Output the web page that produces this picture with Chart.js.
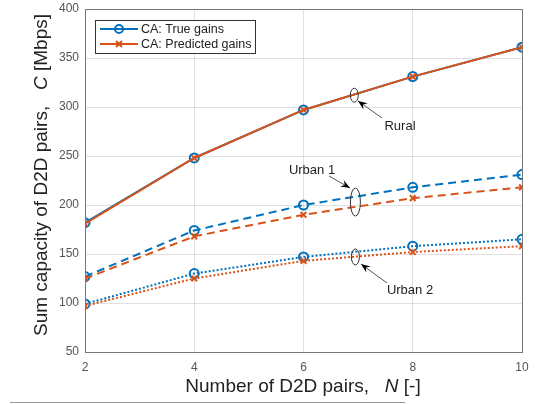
<!DOCTYPE html>
<html>
<head>
<meta charset="utf-8">
<script src="https://cdn.jsdelivr.net/npm/chart.js@4.4.1/dist/chart.umd.min.js"></script>
<style>
  html, body { margin: 0; padding: 0; background: #fff; }
  #wrap { width: 549px; height: 404px; }
</style>
</head>
<body>
<div id="wrap"><canvas id="myChart" width="549" height="404"></canvas></div>
<script>
// number of D2D pairs
const pairs = [2, 4, 6, 8, 10];

// sum capacity [Mbps]
const ruralTrue = [182, 248, 297, 331, 361];
const ruralPred = [181, 248, 297, 331, 361];
const urban1True = [127, 174, 200, 218, 231];
const urban1Pred = [125, 168, 190, 207, 218];
const urban2True = [99, 130, 147, 158, 165];
const urban2Pred = [97, 125, 143, 152, 158];

const yTicks = [50, 100, 150, 200, 250, 300, 350, 400];
const legendLabels = ["CA: True gains", "CA: Predicted gains"];

const BLUE = "#0072BD";
const ORANGE = "#D95319";
const FONT = "'Liberation Sans', Arial, sans-serif";

function pts(ys) {
  return pairs.map((x, i) => ({ x: x, y: ys[i] }));
}

function trueSet(ys, dash) {
  return {
    data: pts(ys),
    borderColor: BLUE,
    backgroundColor: "rgba(255,255,255,0)",
    borderWidth: 2,
    borderDash: dash,
    pointStyle: "circle",
    pointRadius: 4.5,
    pointBorderWidth: 2,
    pointBorderColor: BLUE,
    order: 2,
  };
}

function predSet(ys, dash) {
  return {
    data: pts(ys),
    borderColor: ORANGE,
    backgroundColor: ORANGE,
    borderWidth: 2,
    borderDash: dash,
    pointStyle: "crossRot",
    pointRadius: 4,
    pointBorderWidth: 2,
    pointBorderColor: ORANGE,
    order: 1,
  };
}

const annotations = {
  id: "annotations",
  afterDatasetsDraw(chart) {
    const ctx = chart.ctx;
    const xs = chart.scales.x;
    const ys = chart.scales.y;

    // ellipses + arrows + labels
    const notes = [
      { x: 6.93, y: 312, rx: 4, ry: 7, text: "Rural", tx: 400, ty: 126, ax0: 382, ay0: 118, ax1: 358, ay1: 101 },
      { x: 6.95, y: 203, rx: 5, ry: 14, text: "Urban 1", tx: 312, ty: 170, ax0: 329, ay0: 176, ax1: 350, ay1: 188 },
      { x: 6.95, y: 147, rx: 4, ry: 8, text: "Urban 2", tx: 410, ty: 290, ax0: 387, ay0: 283, ax1: 361, ay1: 264 },
    ];
    ctx.save();
    notes.forEach(n => {
      const cx = xs.getPixelForValue(n.x);
      const cy = ys.getPixelForValue(n.y);
      ctx.strokeStyle = "#333";
      ctx.lineWidth = 1;
      ctx.setLineDash([]);
      ctx.beginPath();
      ctx.ellipse(cx, cy, n.rx, n.ry, 0, 0, Math.PI * 2);
      ctx.stroke();
      // arrow
      ctx.strokeStyle = "#555";
      ctx.beginPath();
      ctx.moveTo(n.ax0, n.ay0);
      ctx.lineTo(n.ax1, n.ay1);
      ctx.stroke();
      const ang = Math.atan2(n.ay1 - n.ay0, n.ax1 - n.ax0);
      ctx.fillStyle = "#000";
      ctx.beginPath();
      ctx.moveTo(n.ax1, n.ay1);
      ctx.lineTo(n.ax1 - 10 * Math.cos(ang - 0.38), n.ay1 - 10 * Math.sin(ang - 0.38));
      ctx.lineTo(n.ax1 - 6 * Math.cos(ang), n.ay1 - 6 * Math.sin(ang));
      ctx.lineTo(n.ax1 - 10 * Math.cos(ang + 0.38), n.ay1 - 10 * Math.sin(ang + 0.38));
      ctx.closePath();
      ctx.fill();
      ctx.font = "13px " + FONT;
      ctx.textAlign = "center";
      ctx.textBaseline = "middle";
      ctx.fillStyle = "#222";
      ctx.fillText(n.text, n.tx, n.ty);
    });

    // legend
    const lx = 95, ly = 20, lw = 160, lh = 33;
    ctx.fillStyle = "#fff";
    ctx.fillRect(lx, ly, lw, lh);
    ctx.strokeStyle = "#333";
    ctx.lineWidth = 1;
    ctx.strokeRect(lx + 0.5, ly + 0.5, lw, lh);
    const rows = [
      { color: BLUE, style: "circle" },
      { color: ORANGE, style: "cross" },
    ];
    rows.forEach((r, i) => {
      const yy = ly + 9 + i * 15;
      ctx.strokeStyle = r.color;
      ctx.lineWidth = 2;
      ctx.beginPath();
      ctx.moveTo(lx + 5, yy);
      ctx.lineTo(lx + 43, yy);
      ctx.stroke();
      if (r.style === "circle") {
        ctx.beginPath();
        ctx.arc(lx + 24, yy, 4, 0, Math.PI * 2);
        ctx.stroke();
      } else {
        ctx.beginPath();
        ctx.moveTo(lx + 21, yy - 3); ctx.lineTo(lx + 27, yy + 3);
        ctx.moveTo(lx + 27, yy - 3); ctx.lineTo(lx + 21, yy + 3);
        ctx.stroke();
      }
      ctx.fillStyle = "#222";
      ctx.font = "12.5px " + FONT;
      ctx.textAlign = "left";
      ctx.textBaseline = "middle";
      ctx.fillText(legendLabels[i], lx + 46, yy + 1);
    });
    ctx.restore();
  },
  afterDraw(chart) {
    const ctx = chart.ctx;
    const area = chart.chartArea;
    ctx.save();
    // box
    ctx.strokeStyle = "#777";
    ctx.lineWidth = 1;
    ctx.strokeRect(area.left + 0.5, area.top + 0.5, area.right - area.left, area.bottom - area.top);

    // axis titles with italic symbols
    const font = "19px " + FONT;
    const ifont = "italic 19px " + FONT;
    function drawParts(parts, cx, cy, rot) {
      ctx.save();
      ctx.translate(cx, cy);
      ctx.rotate(rot);
      let total = 0;
      parts.forEach(p => { ctx.font = p.i ? ifont : font; total += ctx.measureText(p.t).width; });
      let x = -total / 2;
      ctx.fillStyle = "#222";
      ctx.textBaseline = "middle";
      ctx.textAlign = "left";
      parts.forEach(p => {
        ctx.font = p.i ? ifont : font;
        ctx.fillText(p.t, x, 0);
        x += ctx.measureText(p.t).width;
      });
      ctx.restore();
    }
    drawParts([{ t: "Number of D2D pairs,   " }, { t: "N", i: true }, { t: " [-]" }], 303, 387, 0);
    drawParts([{ t: "Sum capacity of D2D pairs,   " }, { t: "C", i: true }, { t: " [Mbps]" }], 42, 175, -Math.PI / 2);

    // bottom rule
    ctx.strokeStyle = "#999";
    ctx.beginPath();
    ctx.moveTo(10, 402.5);
    ctx.lineTo(405, 402.5);
    ctx.stroke();
    ctx.restore();
  },
};

const ctx = document.getElementById("myChart");
const myChart = new Chart(ctx, {
  type: "line",
  data: {
    datasets: [
      trueSet(ruralTrue, []),
      predSet(ruralPred, []),
      trueSet(urban1True, [8, 5]),
      predSet(urban1Pred, [8, 5]),
      trueSet(urban2True, [2, 2]),
      predSet(urban2Pred, [2, 2]),
    ],
  },
  options: {
    responsive: false,
    animation: false,
    layout: { padding: { top: 9, right: 27, left: 0, bottom: 0 } },
    plugins: { legend: { display: false }, tooltip: { enabled: false } },
    scales: {
      x: {
        type: "linear",
        min: 2,
        max: 10,
        afterFit: (s) => { s.height = 52; s.paddingLeft = 0; s.paddingRight = 0; },
        ticks: {
          stepSize: 2,
          color: "#555",
          font: { size: 12, family: FONT },
          padding: 8,
        },
        grid: { color: "rgba(0,0,0,0.12)", drawTicks: false },
        border: { display: false },
      },
      y: {
        min: 50,
        max: 400,
        afterFit: (s) => { s.width = 85; s.paddingTop = 0; s.paddingBottom = 0; },
        afterBuildTicks: (s) => { s.ticks = yTicks.map(v => ({ value: v })); },
        ticks: {
          color: "#555",
          font: { size: 12, family: FONT },
          padding: 6,
        },
        grid: { color: "rgba(0,0,0,0.12)", drawTicks: false },
        border: { display: false },
      },
    },
  },
  plugins: [annotations],
});
</script>
</body>
</html>
